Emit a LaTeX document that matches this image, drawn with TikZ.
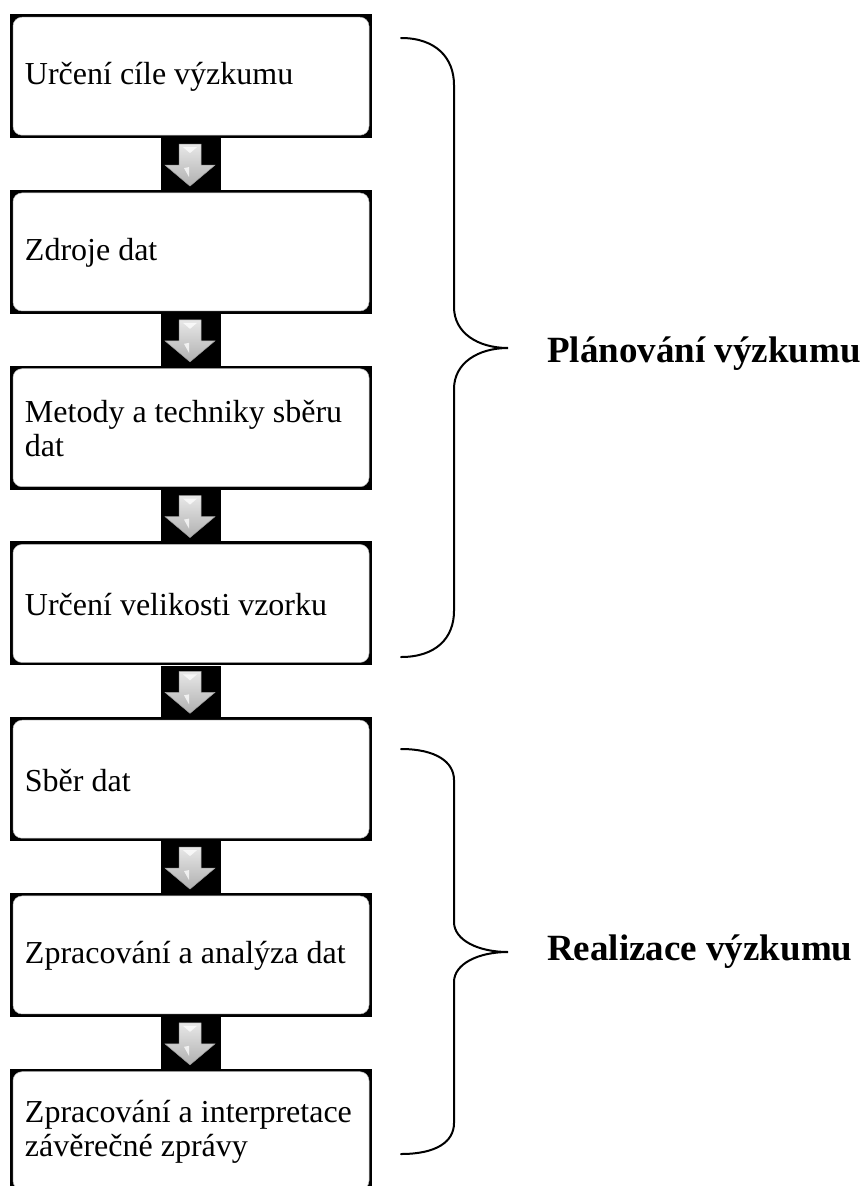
\documentclass[tikz,border=0pt]{standalone}
\usepackage{fontspec}
\setmainfont{Liberation Serif}
\usetikzlibrary{calc}
\tikzset{
  outerbox/.style={fill=black, minimum width=362pt, minimum height=124pt, inner sep=0pt, anchor=north},
  innerbox/.style={fill=white, draw=gray!55, line width=0.5pt, rounded corners=9pt,
    minimum width=356pt, minimum height=118pt, inner sep=0pt},
  boxtext/.style={anchor=west, inner xsep=12pt, inner ysep=0pt, align=left,
    font=\fontsize{32}{34}\selectfont},
  strip/.style={fill=black},
  garrow/.style={top color=gray!18, bottom color=gray!62, draw=gray!75, line width=0.5pt},
  ghigh/.style={fill=white, opacity=0.75},
  bracepath/.style={line width=2pt, line cap=round},
  sidelabel/.style={font=\fontsize{37}{40}\selectfont\bfseries, anchor=base west, inner sep=0pt}
}
\newcommand\grayarrow[1]{%
  \path[garrow] ($(#1)+(-11,-20)$) -- ($(#1)+(11,-20)$) -- ($(#1)+(11,1)$) -- ($(#1)+(25,1)$)
    -- ($(#1)+(0,22)$) -- ($(#1)+(-25,1)$) -- ($(#1)+(-11,1)$) -- cycle;
  \fill[ghigh] ($(#1)+(-7,-17)$) -- ($(#1)+(7,-17)$) -- ($(#1)+(0,-11)$) -- cycle;
  \fill[ghigh] ($(#1)+(-6,4)$) -- ($(#1)+(-1,3)$) -- ($(#1)+(-1,13)$) -- cycle;
}
\begin{document}
\begin{tikzpicture}[x=1pt, y=-1pt]
\useasboundingbox (0,0) rectangle (864,1186);
\clip (0,0) rectangle (864,1186);

% boxes
\node[outerbox] (b1) at (191,14) {};
\node[innerbox] (t1) at (b1.center) {};
\node[boxtext] (x1) at ($(t1.west)+(0,1)$) {Určení cíle výzkumu};
\node[outerbox] (b2) at (191,189.75) {};
\node[innerbox] (t2) at (b2.center) {};
\node[boxtext] (x2) at ($(t2.west)+(0,1)$) {Zdroje dat};
\node[outerbox] (b3) at (191,365.5) {};
\node[innerbox] (t3) at (b3.center) {};
\node[boxtext] (x3) at ($(t3.west)+(0,1)$) {Metody a techniky sběru\\dat};
\node[outerbox] (b4) at (191,541.25) {};
\node[innerbox] (t4) at (b4.center) {};
\node[boxtext] (x4) at ($(t4.west)+(0,1)$) {Určení velikosti vzorku};
\node[outerbox] (b5) at (191,717) {};
\node[innerbox] (t5) at (b5.center) {};
\node[boxtext] (x5) at ($(t5.west)+(0,1)$) {Sběr dat};
\node[outerbox] (b6) at (191,892.75) {};
\node[innerbox] (t6) at (b6.center) {};
\node[boxtext] (x6) at ($(t6.west)+(0,1)$) {Zpracování a analýza dat};
\node[outerbox] (b7) at (191,1068.5) {};
\node[innerbox] (t7) at (b7.center) {};
\node[boxtext] (x7) at ($(t7.west)+(0,1)$) {Zpracování a interpretace\\závěrečné zprávy};

% connectors
\foreach \a/\b in {b1/b2, b2/b3, b3/b4, b4/b5, b5/b6, b6/b7}{
  \fill[strip] ($(\a.south)+(-30,0)$) rectangle ($(\b.north)+(30,0)$);
  \coordinate (m-\a) at ($(\a.south)!0.5!(\b.north)+(-1,0)$);
  \grayarrow{m-\a}
}

% braces
\draw[bracepath] (401,38) .. controls (436,38) and (454,58) .. (454,85) -- (454,307)
  .. controls (454,333) and (478,348) .. (508,348)
  .. controls (478,348) and (454,363) .. (454,389) -- (454,611)
  .. controls (454,638) and (436,657) .. (401,657);
\coordinate (k1) at (508,348);
\draw[bracepath] (401,749) .. controls (436,749) and (454,762) .. (454,780) -- (454,922)
  .. controls (454,940) and (478,952) .. (508,952)
  .. controls (478,952) and (454,964) .. (454,982) -- (454,1123)
  .. controls (454,1142) and (436,1154) .. (401,1154);
\coordinate (k2) at (508,952);

\node[sidelabel] (l1) at ($(k1)+(39,14)$) {Plánování výzkumu};
\node[sidelabel] (l2) at ($(k2)+(39,8)$) {Realizace výzkumu};
\end{tikzpicture}
\end{document}
